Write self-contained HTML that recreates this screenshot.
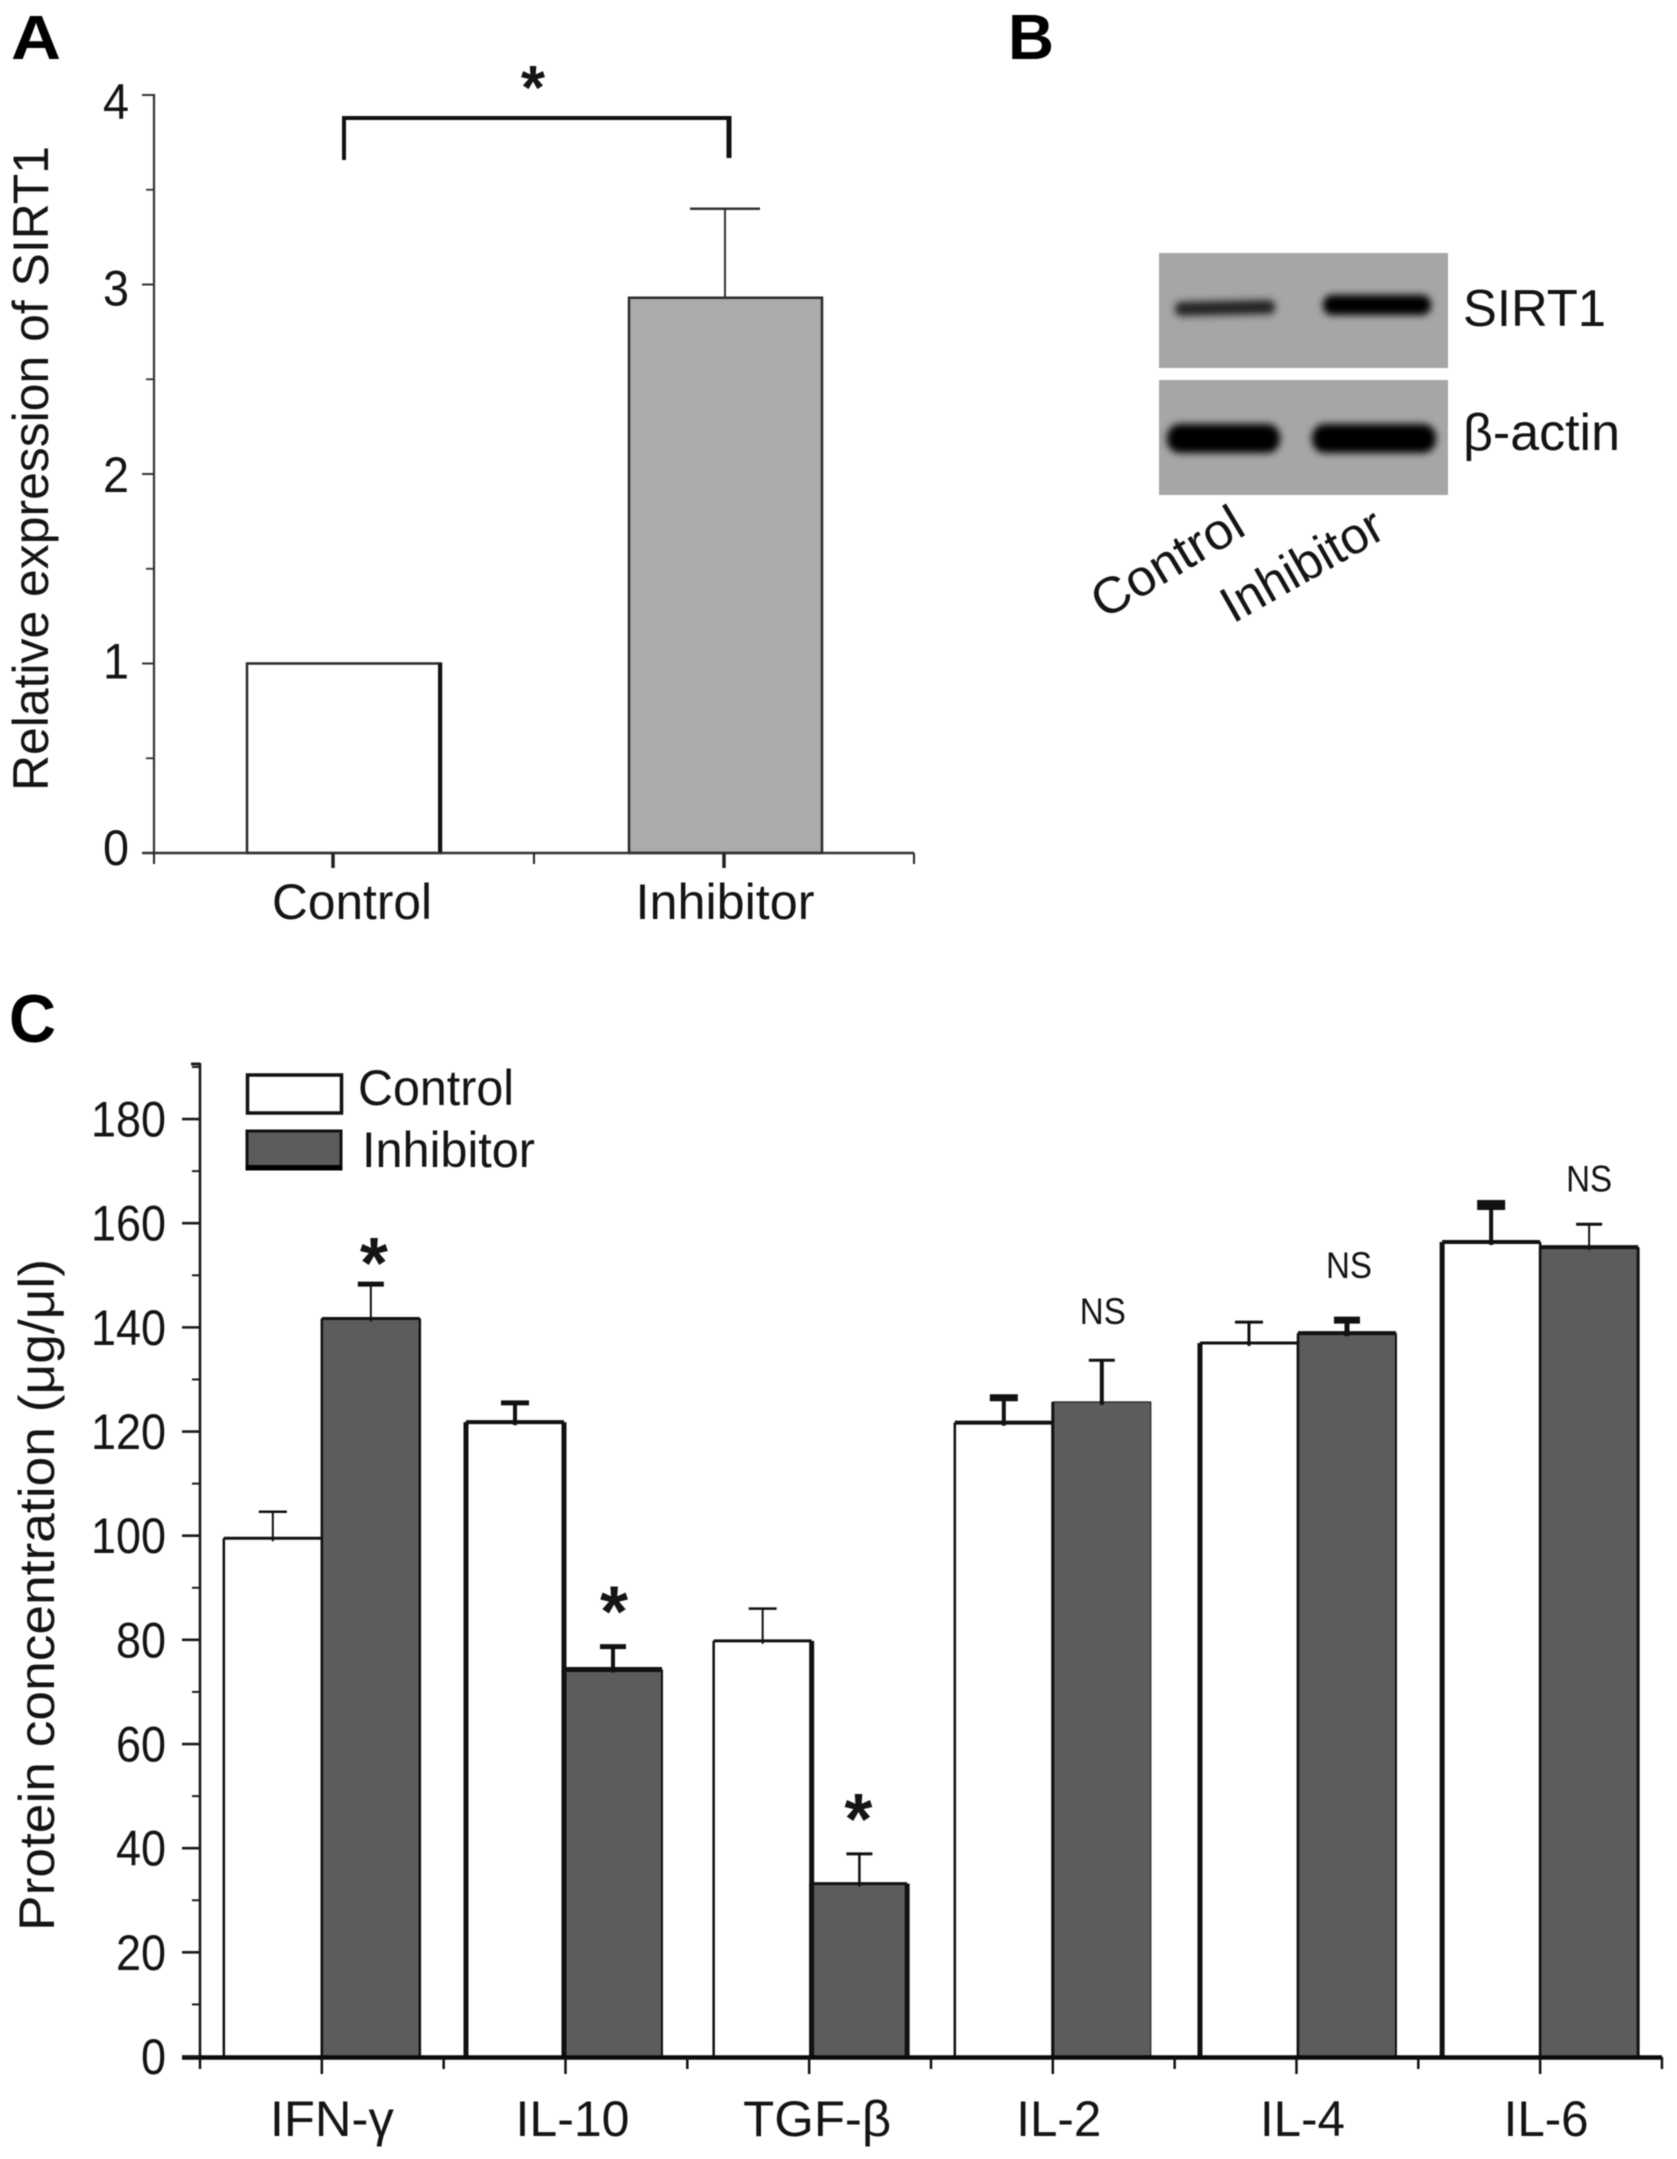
<!DOCTYPE html>
<html lang="en">
<head>
<meta charset="utf-8">
<title>SIRT1 expression and protein concentration</title>
<style>
  html, body { margin: 0; padding: 0; background: #fff; }
  svg { display: block; filter: blur(0.55px); }
  text { font-family: "Liberation Sans", "DejaVu Sans", sans-serif; fill: #141414; }
</style>
</head>
<body>
<svg id="figure" xmlns="http://www.w3.org/2000/svg" width="1677" height="2159" viewBox="0 0 1677 2159">
  <defs>
    <filter id="band-blur" x="-20%" y="-100%" width="140%" height="300%"><feGaussianBlur stdDeviation="3.6"/></filter>
  </defs>
  <rect x="0" y="0" width="1677" height="2159" fill="#fff"/>

  <text x="11" y="59" font-size="62" font-weight="bold" textLength="50" lengthAdjust="spacingAndGlyphs" style="fill:#000">A</text>
  <text x="1008" y="59" font-size="64" font-weight="bold" textLength="46" lengthAdjust="spacingAndGlyphs" style="fill:#000">B</text>
  <text x="9" y="1042" font-size="68" font-weight="bold" textLength="47" lengthAdjust="spacingAndGlyphs" style="fill:#000">C</text>

  <g id="panel-a">
    <text transform="translate(48,791) rotate(-90)" font-size="50" textLength="645" lengthAdjust="spacingAndGlyphs">Relative expression of SIRT1</text>
    <path d="M344 160 V118 H729" fill="none" stroke="#111" stroke-width="4"/>
    <line x1="729" x2="729" y1="116" y2="158" stroke="#111" stroke-width="5"/>
    <text x="533" y="109" font-size="62" font-weight="bold" text-anchor="middle">*</text>
  </g>

  <g id="panel-b">
    <rect x="1159" y="253" width="289" height="115" fill="#a6a6a6"/>
    <rect x="1159" y="380" width="289" height="115" fill="#a6a6a6"/>
    <rect x="1175" y="301" width="100" height="14" rx="6" fill="#222" filter="url(#band-blur)" transform="rotate(-1.2 1225 308)"/>
    <rect x="1323" y="295" width="108" height="20" rx="9" fill="#000" filter="url(#band-blur)"/>
    <rect x="1167" y="424" width="113" height="29" rx="13" fill="#000" filter="url(#band-blur)"/>
    <rect x="1312" y="424" width="124" height="29" rx="13" fill="#000" filter="url(#band-blur)"/>
    <text x="1463" y="326" font-size="52" textLength="143" lengthAdjust="spacingAndGlyphs">SIRT1</text>
    <text x="1463" y="450" font-size="52" textLength="157" lengthAdjust="spacingAndGlyphs">β-actin</text>
    <text transform="translate(1104,620) rotate(-31)" font-size="51" textLength="168" lengthAdjust="spacingAndGlyphs">Control</text>
    <text transform="translate(1233,624) rotate(-29.5)" font-size="51" textLength="178" lengthAdjust="spacingAndGlyphs">Inhibitor</text>
  </g>

  <g id="panel-c">
    <text transform="translate(54,1931) rotate(-90)" font-size="50" textLength="672" lengthAdjust="spacingAndGlyphs">Protein concentration (μg/μl)</text>
    <g>
      <rect x="247.5" y="1075" width="94" height="38" fill="#fff" stroke="#111" stroke-width="3.5"/>
      <text x="358" y="1105" font-size="50" textLength="156" lengthAdjust="spacingAndGlyphs">Control</text>
      <rect x="247" y="1131" width="94" height="38" fill="#5c5c5c" stroke="#111" stroke-width="3"/>
      <rect x="246" y="1165" width="96" height="5" fill="#000"/>
      <text x="362" y="1167" font-size="50" textLength="173" lengthAdjust="spacingAndGlyphs">Inhibitor</text>
    </g>
  </g>
</svg>

<script>
// ---- Panel A data ----
const sirtCategories = ['Control', 'Inhibitor'];
const sirtValues = [1, 2.93];
const sirtErrors = [0, 0.47];
const sirtYTicks = ['0', '1', '2', '3', '4'];

// ---- Panel C data ----
const cytokineCategories = ['IFN-γ', 'IL-10', 'TGF-β', 'IL-2', 'IL-4', 'IL-6'];
const controlValues = [99.5, 121.8, 79.8, 121.7, 137, 156.4];
const controlErrors = [5.1, 3.7, 6.2, 4.8, 4, 7.1];
const inhibitorValues = [141.7, 74.3, 33.2, 125.7, 138.9, 155.4];
const inhibitorErrors = [6.6, 4.4, 5.7, 8, 2.5, 4.4];
const significance = ['*', '*', '*', 'NS', 'NS', 'NS'];
const proteinYTicks = ['0', '20', '40', '60', '80', '100', '120', '140', '160', '180'];

// ---- Panel C per-group styling (not data) ----
const ctrlLeftWeight = [2.5, 5, 2.5, 2.5, 5, 5];
const sharedWeight = [2.5, 5, 5, 3, 2.5, 2.5];
const ctrlTopWeight = [3, 4, 3, 4, 3, 4];
const inhTopWeight = [3, 5, 3, 1, 4, 4];
const inhRightWeight = [2.5, 2, 5, 1, 2, 3];
const ctrlCapWeight = [2.5, 5, 2.5, 7, 3, 10];
const ctrlWhiskerWeight = [2, 4, 2, 4, 3, 4];
const inhCapWeight = [5, 5, 3, 3, 7, 3];
const inhWhiskerWeight = [2, 4, 2.5, 4, 5, 2];
const barNudge = [0, -1.5, 2.5, 0, 1.5, 0];
const barTrim = [0, 0, 2.5, 0, 0, 0];
const xLabelNudge = [10, 7, 8, 6, 6, 6];
const xLabelFit = [124, 114, 148, 85, 85, 85];
const markerNudgeX = [3, 1, -1, 1, 2, 0];
const markerNudgeY = [4, -10, -10, -36, -42, -33];

const SVG_NS = 'http://www.w3.org/2000/svg';
function mk(parent, tag, attrs, content) {
  const el = document.createElementNS(SVG_NS, tag);
  for (const key in attrs) el.setAttribute(key, attrs[key]);
  if (content !== undefined) el.textContent = content;
  parent.appendChild(el);
  return el;
}

// ---- Panel A axes ----
const panelA = document.getElementById('panel-a');
const aAxisX = 154, aAxisRight = 914, aZeroY = 853, aUnit = 189.5;
const aY = v => aZeroY - v * aUnit;
const aX = i => 344 + i * 381;
const aHalf = 97;

sirtCategories.forEach((cat, i) => {
  const isControl = i === 0;
  const bar = mk(panelA, 'rect', { x: aX(i) - aHalf + (isControl ? 0 : 1), y: aY(sirtValues[i]), width: aHalf * 2 - (isControl ? 0 : 1), height: aZeroY - aY(sirtValues[i]), fill: isControl ? '#fff' : '#ababab', stroke: '#2a2a2a', 'stroke-width': 2.5 });
  
  
  if (isControl) {
    const edge = mk(panelA, 'line', { x1: aX(i) + aHalf - 1, x2: aX(i) + aHalf - 1, y1: aY(sirtValues[i]), y2: aZeroY, stroke: '#111', 'stroke-width': 4 });
    
    
  }
  if (sirtErrors[i] > 0) {
    const top = aY(sirtValues[i] + sirtErrors[i]);
    const whisker = mk(panelA, 'line', { x1: aX(i), x2: aX(i), y1: aY(sirtValues[i]), y2: top, stroke: '#333', 'stroke-width': 2 });
    
    
    const cap = mk(panelA, 'line', { x1: aX(i) - 35, x2: aX(i) + 35, y1: top, y2: top, stroke: '#333', 'stroke-width': 2.5 });
    
    
  }
  const label = mk(panelA, 'text', { x: aX(i) + (isControl ? 8 : 0), y: 919, 'font-size': 50, 'text-anchor': 'middle', textLength: isControl ? 160 : 179, lengthAdjust: 'spacingAndGlyphs' }, cat);
  
  
});

const aYAxis = mk(panelA, 'line', { x1: aAxisX, x2: aAxisX, y1: aY(4) - 1, y2: aZeroY + 1, stroke: '#333', 'stroke-width': 2.2 });


const aXAxis = mk(panelA, 'line', { x1: 142, x2: aAxisRight, y1: aZeroY, y2: aZeroY, stroke: '#333', 'stroke-width': 2.5 });



sirtYTicks.forEach((t, i) => {
  const v = Number(t);
  const tick = mk(panelA, 'line', { x1: 142, x2: aAxisX, y1: aY(v), y2: aY(v), stroke: '#333', 'stroke-width': 2 });
  
  
  const label = mk(panelA, 'text', { x: 129, y: aY(v) + 12 + 3 * v, 'font-size': 50, 'text-anchor': 'end', textLength: 26, lengthAdjust: 'spacingAndGlyphs' }, t);
  
  
  if (i < sirtYTicks.length - 1) {
    const minor = mk(panelA, 'line', { x1: 146, x2: aAxisX, y1: aY(v + 0.5), y2: aY(v + 0.5), stroke: '#333', 'stroke-width': 1.8 });
    
    
  }
});
for (let k = 0; k <= 4; k++) {
  const isCategoryTick = k === 1 || k === 3;
  const px = aAxisX + (aAxisRight - aAxisX) * k / 4 - (k === 1 ? 11 : 0);
  const tick = mk(panelA, 'line', { x1: px, x2: px, y1: aZeroY, y2: aZeroY + (isCategoryTick ? 15 : 11), stroke: '#222', 'stroke-width': isCategoryTick ? 3.5 : 2 });
  
  
}

// ---- Panel C axes ----
const panelC = document.getElementById('panel-c');
const cAxisX = 200, cZeroY = 2056.5, cUnit = 5.208, cXStep = 121.83, barW = 98;
const cY = v => cZeroY - v * cUnit;
const cTick = i => cAxisX + cXStep * (1 + 2 * i);

cytokineCategories.forEach((cat, i) => {
  const c = cTick(i) + barNudge[i];
  const inhW = barW - barTrim[i];
  const ctrlTop = cY(controlValues[i]);
  const inhTop = cY(inhibitorValues[i]);

  const ctrlBar = mk(panelC, 'rect', { x: c - barW, y: ctrlTop, width: barW, height: cZeroY - ctrlTop, fill: '#fff' });
  
  
  const ctrlLeft = mk(panelC, 'line', { x1: c - barW, x2: c - barW, y1: ctrlTop, y2: cZeroY, stroke: '#111', 'stroke-width': ctrlLeftWeight[i] });
  
  
  const ctrlRight = mk(panelC, 'line', { x1: c, x2: c, y1: ctrlTop, y2: cZeroY, stroke: '#111', 'stroke-width': sharedWeight[i] });
  
  

  const inhBar = mk(panelC, 'rect', { x: c, y: inhTop, width: inhW, height: cZeroY - inhTop, fill: '#5c5c5c' });
  
  
  const inhLeft = mk(panelC, 'line', { x1: c, x2: c, y1: inhTop, y2: cZeroY, stroke: '#111', 'stroke-width': sharedWeight[i] });
  
  
  const inhRight = mk(panelC, 'line', { x1: c + inhW, x2: c + inhW, y1: inhTop, y2: cZeroY, stroke: '#111', 'stroke-width': inhRightWeight[i] });
  
  
  const inhCapLine = mk(panelC, 'line', { x1: c, x2: c + inhW, y1: inhTop, y2: inhTop, stroke: '#111', 'stroke-width': inhTopWeight[i] });
  
  
  const ctrlCapLine = mk(panelC, 'line', { x1: c - barW, x2: c, y1: ctrlTop, y2: ctrlTop, stroke: '#111', 'stroke-width': ctrlTopWeight[i] });
  
  

  const ctrlErrTop = cY(controlValues[i] + controlErrors[i]);
  const ctrlX = c - barW / 2;
  const ctrlWhisker = mk(panelC, 'line', { x1: ctrlX, x2: ctrlX, y1: ctrlTop + 3, y2: ctrlErrTop, stroke: '#111', 'stroke-width': ctrlWhiskerWeight[i] });
  
  
  const ctrlCap = mk(panelC, 'line', { x1: ctrlX - 14, x2: ctrlX + 14, y1: ctrlErrTop, y2: ctrlErrTop, stroke: '#111', 'stroke-width': ctrlCapWeight[i] });
  
  

  const inhErrTop = cY(inhibitorValues[i] + inhibitorErrors[i]);
  const inhX = c + inhW / 2;
  const inhWhisker = mk(panelC, 'line', { x1: inhX, x2: inhX, y1: inhTop + 3, y2: inhErrTop, stroke: '#111', 'stroke-width': inhWhiskerWeight[i] });
  
  
  const inhCap = mk(panelC, 'line', { x1: inhX - 13, x2: inhX + 13, y1: inhErrTop, y2: inhErrTop, stroke: '#111', 'stroke-width': inhCapWeight[i] });
  
  

  const isStar = significance[i] === '*';
  const marker = mk(panelC, 'text', isStar
    ? { x: inhX + markerNudgeX[i], y: inhErrTop + markerNudgeY[i], 'font-size': 72, 'font-weight': 'bold', 'text-anchor': 'middle' }
    : { x: inhX + markerNudgeX[i], y: inhErrTop + markerNudgeY[i], 'font-size': 37, 'text-anchor': 'middle', textLength: 46, lengthAdjust: 'spacingAndGlyphs' }, significance[i]);
  
  

  const catLabel = mk(panelC, 'text', { x: cTick(i) + xLabelNudge[i], y: 2136, 'font-size': 50, 'text-anchor': 'middle', textLength: xLabelFit[i], lengthAdjust: 'spacingAndGlyphs' }, cat);
  
  
});

const cYAxis = mk(panelC, 'line', { x1: cAxisX, x2: cAxisX, y1: 1063, y2: cZeroY, stroke: '#1a1a1a', 'stroke-width': 2.6 });


const cXAxis = mk(panelC, 'line', { x1: 182, x2: 1662, y1: 2057.5, y2: 2057.5, stroke: '#0a0a0a', 'stroke-width': 4.5 });


const cTopTick = mk(panelC, 'line', { x1: 191, x2: cAxisX, y1: 1064, y2: 1064, stroke: '#1a1a1a', 'stroke-width': 3 });



proteinYTicks.forEach(t => {
  const v = Number(t);
  const tick = mk(panelC, 'line', { x1: 182, x2: cAxisX, y1: cY(v), y2: cY(v), stroke: '#1a1a1a', 'stroke-width': 2.6 });
  
  
  const label = mk(panelC, 'text', { x: 166, y: cY(v) + 17.5, 'font-size': 50, 'text-anchor': 'end', textLength: t.length * 25, lengthAdjust: 'spacingAndGlyphs' }, t);
  
  
  const minor = mk(panelC, 'line', { x1: 192, x2: cAxisX, y1: cY(v + 10), y2: cY(v + 10), stroke: '#1a1a1a', 'stroke-width': 2 });
  
  
});
for (let k = 0; k <= 12; k++) {
  const isCategoryTick = k % 2 === 1;
  const px = cAxisX + cXStep * k;
  const tick = mk(panelC, 'line', { x1: px, x2: px, y1: 2057, y2: isCategoryTick ? 2074 : 2069, stroke: '#111', 'stroke-width': 2.5 });
  
  
}
</script>
</body>
</html>
